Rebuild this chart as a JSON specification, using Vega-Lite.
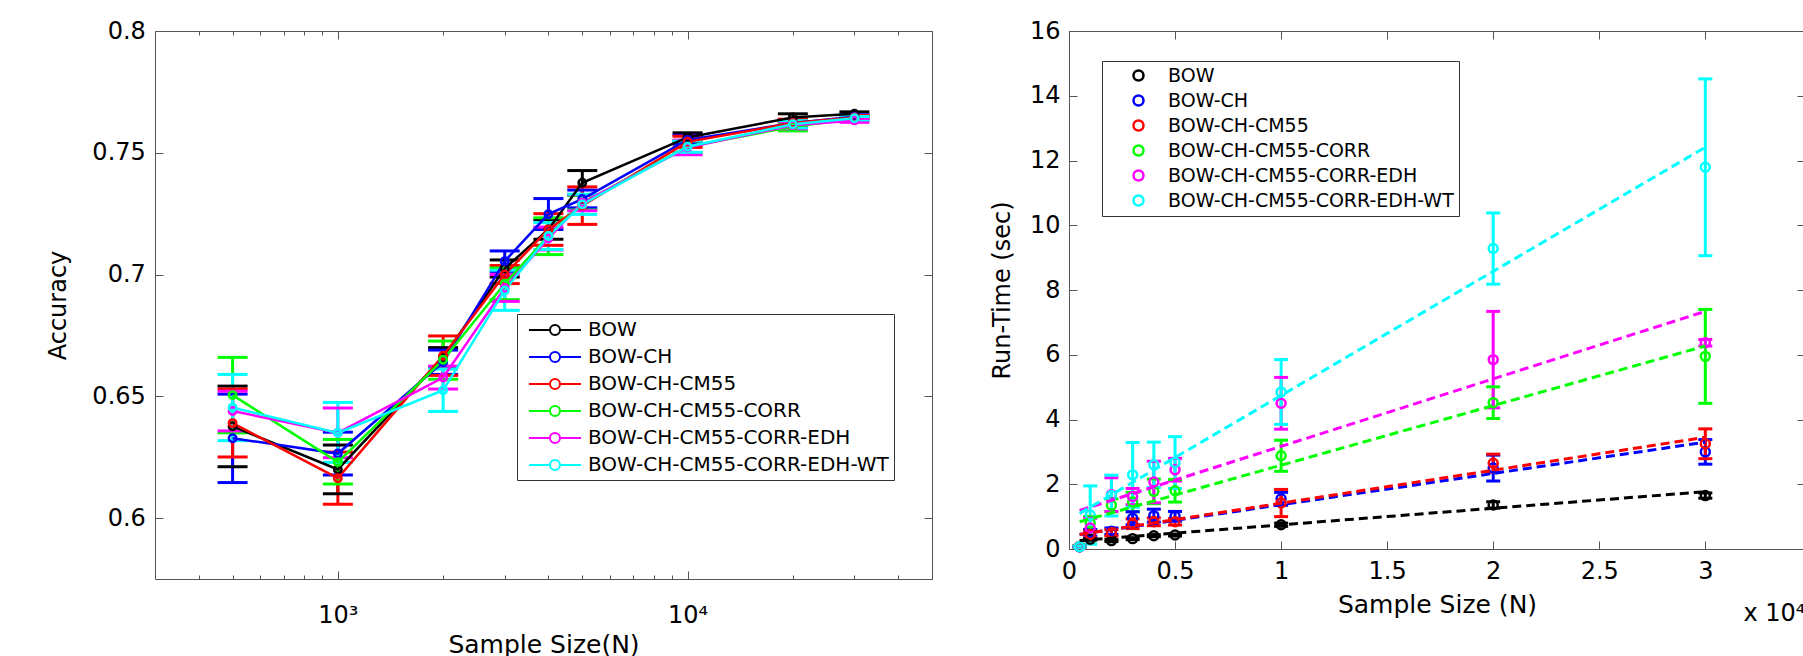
{
  "$schema": "https://vega.github.io/schema/vega-lite/v6.json",
  "background": "white",
  "padding": {"left": 46, "top": 19, "right": 0, "bottom": 0},
  "spacing": 57,
  "config": {
    "font": "DejaVu Sans",
    "view": {"stroke": null},
    "axis": {
      "labelFont": "DejaVu Sans", "titleFont": "DejaVu Sans", "labelColor": "black", "titleColor": "black",
      "titleFontWeight": "normal", "domainColor": "#555", "tickColor": "#555", "grid": false,
      "labelFontSize": 24, "titleFontSize": 24, "labelFlush": false, "labelOverlap": false, "tickWidth": 1, "domainWidth": 1
    },
    "legend": {"labelFont": "DejaVu Sans", "labelColor": "black", "labelLimit": 0}
  },
  "resolve": {"scale": {"color": "independent", "stroke": "independent", "fill": "independent"}, "legend": {"color": "independent"}},
  "datasets": {
    "acc": [
      {"s": "BOW", "N": 500, "v": 0.6377, "lo": 0.6211, "hi": 0.6542},
      {"s": "BOW", "N": 1000, "v": 0.620, "lo": 0.610, "hi": 0.630},
      {"s": "BOW", "N": 2000, "v": 0.666, "lo": 0.662, "hi": 0.670},
      {"s": "BOW", "N": 3000, "v": 0.7025, "lo": 0.699, "hi": 0.706},
      {"s": "BOW", "N": 4000, "v": 0.7185, "lo": 0.7145, "hi": 0.7225},
      {"s": "BOW", "N": 5000, "v": 0.7377, "lo": 0.7327, "hi": 0.7427},
      {"s": "BOW", "N": 10000, "v": 0.7563, "lo": 0.7545, "hi": 0.7582},
      {"s": "BOW", "N": 20000, "v": 0.7645, "lo": 0.763, "hi": 0.766},
      {"s": "BOW", "N": 30000, "v": 0.766, "lo": 0.7652, "hi": 0.7668},
      {"s": "BOW-CH", "N": 500, "v": 0.6328, "lo": 0.6146, "hi": 0.6509},
      {"s": "BOW-CH", "N": 1000, "v": 0.6265, "lo": 0.6177, "hi": 0.6353},
      {"s": "BOW-CH", "N": 2000, "v": 0.664, "lo": 0.659, "hi": 0.669},
      {"s": "BOW-CH", "N": 3000, "v": 0.7055, "lo": 0.7013, "hi": 0.7097},
      {"s": "BOW-CH", "N": 4000, "v": 0.7248, "lo": 0.7185, "hi": 0.7312},
      {"s": "BOW-CH", "N": 5000, "v": 0.731, "lo": 0.7274, "hi": 0.7347},
      {"s": "BOW-CH", "N": 10000, "v": 0.7553, "lo": 0.7535, "hi": 0.7572},
      {"s": "BOW-CH", "N": 20000, "v": 0.7622, "lo": 0.7608, "hi": 0.7636},
      {"s": "BOW-CH", "N": 30000, "v": 0.7648, "lo": 0.764, "hi": 0.7656},
      {"s": "BOW-CH-CM55", "N": 500, "v": 0.639, "lo": 0.6251, "hi": 0.653},
      {"s": "BOW-CH-CM55", "N": 1000, "v": 0.6164, "lo": 0.6057, "hi": 0.6271},
      {"s": "BOW-CH-CM55", "N": 2000, "v": 0.6667, "lo": 0.6586, "hi": 0.6748},
      {"s": "BOW-CH-CM55", "N": 3000, "v": 0.700, "lo": 0.6963, "hi": 0.7037},
      {"s": "BOW-CH-CM55", "N": 4000, "v": 0.7185, "lo": 0.712, "hi": 0.725},
      {"s": "BOW-CH-CM55", "N": 5000, "v": 0.7283, "lo": 0.7206, "hi": 0.736},
      {"s": "BOW-CH-CM55", "N": 10000, "v": 0.7545, "lo": 0.7522, "hi": 0.7568},
      {"s": "BOW-CH-CM55", "N": 20000, "v": 0.7622, "lo": 0.7605, "hi": 0.7638},
      {"s": "BOW-CH-CM55", "N": 30000, "v": 0.7645, "lo": 0.7637, "hi": 0.7653},
      {"s": "BOW-CH-CM55-CORR", "N": 500, "v": 0.6505, "lo": 0.635, "hi": 0.666},
      {"s": "BOW-CH-CM55-CORR", "N": 1000, "v": 0.623, "lo": 0.614, "hi": 0.6323},
      {"s": "BOW-CH-CM55-CORR", "N": 2000, "v": 0.665, "lo": 0.657, "hi": 0.6727},
      {"s": "BOW-CH-CM55-CORR", "N": 3000, "v": 0.6962, "lo": 0.6897, "hi": 0.7027},
      {"s": "BOW-CH-CM55-CORR", "N": 4000, "v": 0.7158, "lo": 0.7082, "hi": 0.7233},
      {"s": "BOW-CH-CM55-CORR", "N": 5000, "v": 0.7295, "lo": 0.7265, "hi": 0.7325},
      {"s": "BOW-CH-CM55-CORR", "N": 10000, "v": 0.7525, "lo": 0.750, "hi": 0.755},
      {"s": "BOW-CH-CM55-CORR", "N": 20000, "v": 0.7607, "lo": 0.759, "hi": 0.7624},
      {"s": "BOW-CH-CM55-CORR", "N": 30000, "v": 0.764, "lo": 0.7632, "hi": 0.7648},
      {"s": "BOW-CH-CM55-CORR-EDH", "N": 500, "v": 0.644, "lo": 0.6358, "hi": 0.6521},
      {"s": "BOW-CH-CM55-CORR-EDH", "N": 1000, "v": 0.635, "lo": 0.6248, "hi": 0.6452},
      {"s": "BOW-CH-CM55-CORR-EDH", "N": 2000, "v": 0.6577, "lo": 0.653, "hi": 0.6624},
      {"s": "BOW-CH-CM55-CORR-EDH", "N": 3000, "v": 0.6945, "lo": 0.689, "hi": 0.700},
      {"s": "BOW-CH-CM55-CORR-EDH", "N": 4000, "v": 0.7148, "lo": 0.7101, "hi": 0.7195},
      {"s": "BOW-CH-CM55-CORR-EDH", "N": 5000, "v": 0.7295, "lo": 0.7262, "hi": 0.7328},
      {"s": "BOW-CH-CM55-CORR-EDH", "N": 10000, "v": 0.7522, "lo": 0.7492, "hi": 0.7552},
      {"s": "BOW-CH-CM55-CORR-EDH", "N": 20000, "v": 0.7613, "lo": 0.7598, "hi": 0.7628},
      {"s": "BOW-CH-CM55-CORR-EDH", "N": 30000, "v": 0.7633, "lo": 0.7625, "hi": 0.7641},
      {"s": "BOW-CH-CM55-CORR-EDH-WT", "N": 500, "v": 0.6454, "lo": 0.6318, "hi": 0.659},
      {"s": "BOW-CH-CM55-CORR-EDH-WT", "N": 1000, "v": 0.635, "lo": 0.6229, "hi": 0.6475},
      {"s": "BOW-CH-CM55-CORR-EDH-WT", "N": 2000, "v": 0.6525, "lo": 0.6438, "hi": 0.6612},
      {"s": "BOW-CH-CM55-CORR-EDH-WT", "N": 3000, "v": 0.6935, "lo": 0.6853, "hi": 0.7018},
      {"s": "BOW-CH-CM55-CORR-EDH-WT", "N": 4000, "v": 0.7158, "lo": 0.7103, "hi": 0.7213},
      {"s": "BOW-CH-CM55-CORR-EDH-WT", "N": 5000, "v": 0.7288, "lo": 0.7247, "hi": 0.733},
      {"s": "BOW-CH-CM55-CORR-EDH-WT", "N": 10000, "v": 0.7525, "lo": 0.7502, "hi": 0.7548},
      {"s": "BOW-CH-CM55-CORR-EDH-WT", "N": 20000, "v": 0.7617, "lo": 0.7602, "hi": 0.7632},
      {"s": "BOW-CH-CM55-CORR-EDH-WT", "N": 30000, "v": 0.7642, "lo": 0.7635, "hi": 0.7649}
    ],
    "rt": [
      {"s": "BOW", "N": 500, "t": 0.07, "lo": 0.05, "hi": 0.09},
      {"s": "BOW", "N": 1000, "t": 0.30, "lo": 0.27, "hi": 0.33},
      {"s": "BOW", "N": 2000, "t": 0.26, "lo": 0.23, "hi": 0.29},
      {"s": "BOW", "N": 3000, "t": 0.32, "lo": 0.29, "hi": 0.35},
      {"s": "BOW", "N": 4000, "t": 0.41, "lo": 0.38, "hi": 0.44},
      {"s": "BOW", "N": 5000, "t": 0.43, "lo": 0.40, "hi": 0.46},
      {"s": "BOW", "N": 10000, "t": 0.75, "lo": 0.70, "hi": 0.80},
      {"s": "BOW", "N": 20000, "t": 1.36, "lo": 1.26, "hi": 1.46},
      {"s": "BOW", "N": 30000, "t": 1.65, "lo": 1.57, "hi": 1.73},
      {"s": "BOW-CH", "N": 500, "t": 0.07, "lo": 0.05, "hi": 0.09},
      {"s": "BOW-CH", "N": 1000, "t": 0.50, "lo": 0.40, "hi": 0.60},
      {"s": "BOW-CH", "N": 2000, "t": 0.55, "lo": 0.45, "hi": 0.65},
      {"s": "BOW-CH", "N": 3000, "t": 0.95, "lo": 0.75, "hi": 1.15},
      {"s": "BOW-CH", "N": 4000, "t": 1.03, "lo": 0.83, "hi": 1.23},
      {"s": "BOW-CH", "N": 5000, "t": 1.01, "lo": 0.86, "hi": 1.16},
      {"s": "BOW-CH", "N": 10000, "t": 1.55, "lo": 1.35, "hi": 1.75},
      {"s": "BOW-CH", "N": 20000, "t": 2.50, "lo": 2.10, "hi": 2.90},
      {"s": "BOW-CH", "N": 30000, "t": 3.00, "lo": 2.62, "hi": 3.38},
      {"s": "BOW-CH-CM55", "N": 500, "t": 0.08, "lo": 0.06, "hi": 0.10},
      {"s": "BOW-CH-CM55", "N": 1000, "t": 0.45, "lo": 0.35, "hi": 0.55},
      {"s": "BOW-CH-CM55", "N": 2000, "t": 0.50, "lo": 0.40, "hi": 0.60},
      {"s": "BOW-CH-CM55", "N": 3000, "t": 0.78, "lo": 0.63, "hi": 0.93},
      {"s": "BOW-CH-CM55", "N": 4000, "t": 0.84, "lo": 0.72, "hi": 0.96},
      {"s": "BOW-CH-CM55", "N": 5000, "t": 0.84, "lo": 0.74, "hi": 0.94},
      {"s": "BOW-CH-CM55", "N": 10000, "t": 1.42, "lo": 1.00, "hi": 1.84},
      {"s": "BOW-CH-CM55", "N": 20000, "t": 2.65, "lo": 2.37, "hi": 2.93},
      {"s": "BOW-CH-CM55", "N": 30000, "t": 3.25, "lo": 2.79, "hi": 3.71},
      {"s": "BOW-CH-CM55-CORR", "N": 500, "t": 0.08, "lo": 0.06, "hi": 0.10},
      {"s": "BOW-CH-CM55-CORR", "N": 1000, "t": 0.80, "lo": 0.60, "hi": 1.00},
      {"s": "BOW-CH-CM55-CORR", "N": 2000, "t": 1.35, "lo": 1.15, "hi": 1.55},
      {"s": "BOW-CH-CM55-CORR", "N": 3000, "t": 1.45, "lo": 1.15, "hi": 1.75},
      {"s": "BOW-CH-CM55-CORR", "N": 4000, "t": 1.78, "lo": 1.40, "hi": 2.16},
      {"s": "BOW-CH-CM55-CORR", "N": 5000, "t": 1.80, "lo": 1.45, "hi": 2.15},
      {"s": "BOW-CH-CM55-CORR", "N": 10000, "t": 2.88, "lo": 2.40, "hi": 3.36},
      {"s": "BOW-CH-CM55-CORR", "N": 20000, "t": 4.52, "lo": 4.03, "hi": 5.01},
      {"s": "BOW-CH-CM55-CORR", "N": 30000, "t": 5.95, "lo": 4.50, "hi": 7.40},
      {"s": "BOW-CH-CM55-CORR-EDH", "N": 500, "t": 0.07, "lo": 0.05, "hi": 0.09},
      {"s": "BOW-CH-CM55-CORR-EDH", "N": 1000, "t": 0.65, "lo": 0.35, "hi": 0.95},
      {"s": "BOW-CH-CM55-CORR-EDH", "N": 2000, "t": 1.68, "lo": 1.16, "hi": 2.20},
      {"s": "BOW-CH-CM55-CORR-EDH", "N": 3000, "t": 1.62, "lo": 1.37, "hi": 1.87},
      {"s": "BOW-CH-CM55-CORR-EDH", "N": 4000, "t": 2.07, "lo": 1.43, "hi": 2.71},
      {"s": "BOW-CH-CM55-CORR-EDH", "N": 5000, "t": 2.45, "lo": 2.10, "hi": 2.80},
      {"s": "BOW-CH-CM55-CORR-EDH", "N": 10000, "t": 4.50, "lo": 3.70, "hi": 5.30},
      {"s": "BOW-CH-CM55-CORR-EDH", "N": 20000, "t": 5.85, "lo": 4.36, "hi": 7.34},
      {"s": "BOW-CH-CM55-CORR-EDH", "N": 30000, "t": 6.37, "lo": 6.27, "hi": 6.47},
      {"s": "BOW-CH-CM55-CORR-EDH-WT", "N": 500, "t": 0.07, "lo": 0.05, "hi": 0.09},
      {"s": "BOW-CH-CM55-CORR-EDH-WT", "N": 1000, "t": 1.05, "lo": 0.15, "hi": 1.95},
      {"s": "BOW-CH-CM55-CORR-EDH-WT", "N": 2000, "t": 1.65, "lo": 1.02, "hi": 2.28},
      {"s": "BOW-CH-CM55-CORR-EDH-WT", "N": 3000, "t": 2.29, "lo": 1.29, "hi": 3.29},
      {"s": "BOW-CH-CM55-CORR-EDH-WT", "N": 4000, "t": 2.60, "lo": 1.90, "hi": 3.30},
      {"s": "BOW-CH-CM55-CORR-EDH-WT", "N": 5000, "t": 2.67, "lo": 1.87, "hi": 3.47},
      {"s": "BOW-CH-CM55-CORR-EDH-WT", "N": 10000, "t": 4.85, "lo": 3.85, "hi": 5.85},
      {"s": "BOW-CH-CM55-CORR-EDH-WT", "N": 20000, "t": 9.28, "lo": 8.18, "hi": 10.38},
      {"s": "BOW-CH-CM55-CORR-EDH-WT", "N": 30000, "t": 11.79, "lo": 9.06, "hi": 14.52}
    ],
    "fit": [
      {"s": "BOW", "N": 500, "f": 0.26}, {"s": "BOW", "N": 30000, "f": 1.77},
      {"s": "BOW-CH", "N": 500, "f": 0.45}, {"s": "BOW-CH", "N": 30000, "f": 3.30},
      {"s": "BOW-CH-CM55", "N": 500, "f": 0.45}, {"s": "BOW-CH-CM55", "N": 30000, "f": 3.45},
      {"s": "BOW-CH-CM55-CORR", "N": 500, "f": 0.84}, {"s": "BOW-CH-CM55-CORR", "N": 30000, "f": 6.27},
      {"s": "BOW-CH-CM55-CORR-EDH", "N": 500, "f": 1.19}, {"s": "BOW-CH-CM55-CORR-EDH", "N": 30000, "f": 7.34},
      {"s": "BOW-CH-CM55-CORR-EDH-WT", "N": 500, "f": 1.10}, {"s": "BOW-CH-CM55-CORR-EDH-WT", "N": 30000, "f": 12.41}
    ]
  },
  "hconcat": [
    {
      "width": 777,
      "height": 548,
      "data": {"name": "acc"},
      "resolve": {"axis": {"x": "independent", "y": "independent"}},
      "layer": [
        {
          "mark": {"type": "rule", "strokeWidth": 3},
          "encoding": {
            "x": {"field": "N", "type": "quantitative", "scale": {"type": "log", "domain": [300, 50000], "nice": false},
              "axis": {"orient": "top", "values": [400,500,600,700,800,900,1000,2000,3000,4000,5000,6000,7000,8000,9000,10000,20000,30000,40000,50000], "labels": false, "title": null,
                "tickSize": {"condition": {"test": "datum.value == 1000 || datum.value == 10000", "value": -8}, "value": -4}}},
            "y": {"field": "lo", "type": "quantitative", "scale": {"domain": [0.575, 0.8], "nice": false, "zero": false},
              "axis": {"orient": "right", "values": [0.6, 0.65, 0.7, 0.75, 0.8], "labels": false, "title": null, "tickSize": -8}},
            "y2": {"field": "hi"},
            "stroke": {"field": "s", "type": "nominal", "legend": null,
              "scale": {"range": ["#000000", "#0000FF", "#FF0000", "#00FF00", "#FF00FF", "#00FFFF"]}}
          }
        },
        {
          "mark": {"type": "tick", "orient": "horizontal", "size": 30, "thickness": 3, "opacity": 1},
          "encoding": {
            "x": {"field": "N", "type": "quantitative", "scale": {"type": "log", "domain": [300, 50000], "nice": false}, "axis": null},
            "y": {"field": "lo", "type": "quantitative", "scale": {"domain": [0.575, 0.8], "nice": false, "zero": false}, "axis": null},
            "fill": {"field": "s", "type": "nominal", "legend": null,
              "scale": {"range": ["#000000", "#0000FF", "#FF0000", "#00FF00", "#FF00FF", "#00FFFF"]}}
          }
        },
        {
          "mark": {"type": "tick", "orient": "horizontal", "size": 30, "thickness": 3, "opacity": 1},
          "encoding": {
            "x": {"field": "N", "type": "quantitative", "scale": {"type": "log", "domain": [300, 50000], "nice": false}, "axis": null},
            "y": {"field": "hi", "type": "quantitative", "scale": {"domain": [0.575, 0.8], "nice": false, "zero": false}, "axis": null},
            "fill": {"field": "s", "type": "nominal", "legend": null}
          }
        },
        {
          "mark": {"type": "line", "strokeWidth": 2.5},
          "encoding": {
            "x": {"field": "N", "type": "quantitative", "scale": {"type": "log", "domain": [300, 50000], "nice": false},
              "axis": {"orient": "bottom", "values": [400,500,600,700,800,900,1000,2000,3000,4000,5000,6000,7000,8000,9000,10000,20000,30000,40000,50000],
                "labelExpr": "datum.value == 1000 ? '10³' : datum.value == 10000 ? '10⁴' : ''",
                "tickSize": {"condition": {"test": "datum.value == 1000 || datum.value == 10000", "value": -8}, "value": -4},
                "labelPadding": 32, "title": "Sample Size(N)", "titleFontSize": 25, "titlePadding": 1}},
            "y": {"field": "v", "type": "quantitative", "scale": {"domain": [0.575, 0.8], "nice": false, "zero": false},
              "axis": {"orient": "left", "values": [0.6, 0.65, 0.7, 0.75, 0.8], "format": ".2~f", "tickSize": -8, "labelPadding": 17.7, "title": "Accuracy", "titlePadding": 21}},
            "stroke": {"field": "s", "type": "nominal", "legend": null}
          }
        },
        {
          "mark": {"type": "point", "shape": "circle", "filled": false, "size": 55, "strokeWidth": 2.5, "opacity": 1},
          "encoding": {
            "x": {"field": "N", "type": "quantitative", "scale": {"type": "log", "domain": [300, 50000], "nice": false}, "axis": null},
            "y": {"field": "v", "type": "quantitative", "scale": {"domain": [0.575, 0.8], "nice": false, "zero": false}, "axis": null},
            "color": {"field": "s", "type": "nominal",
              "scale": {"domain": ["BOW", "BOW-CH", "BOW-CH-CM55", "BOW-CH-CM55-CORR", "BOW-CH-CM55-CORR-EDH", "BOW-CH-CM55-CORR-EDH-WT"], "range": ["#000000", "#0000FF", "#FF0000", "#00FF00", "#FF00FF", "#00FFFF"]},
              "legend": {"orient": "none", "legendX": 362, "legendY": 283, "title": null,
                "symbolType": "M-2.6,0L-0.5,0M0.5,0L2.6,0M-0.5,0A0.5,0.5,0,1,1,0.5,0A0.5,0.5,0,1,1,-0.5,0",
                "symbolSize": 400, "symbolStrokeWidth": 2, "symbolFillColor": "transparent", "symbolOpacity": 1, "symbolOffset": 22, "labelOffset": 22,
                "labelFontSize": 20, "rowPadding": 6, "padding": 5, "strokeColor": "#333", "fillColor": "white", "cornerRadius": 0}}
          }
        }
      ]
    },
    {
      "width": 736,
      "height": 518,
      "resolve": {"axis": {"x": "independent", "y": "independent"}},
      "layer": [
        {
          "data": {"name": "rt"},
          "mark": {"type": "rule", "strokeWidth": 3},
          "encoding": {
            "x": {"field": "N", "type": "quantitative", "scale": {"domain": [0, 34700], "nice": false, "zero": false},
              "axis": {"orient": "top", "values": [0,5000,10000,15000,20000,25000,30000], "labels": false, "title": null, "tickSize": -8}},
            "y": {"field": "lo", "type": "quantitative", "scale": {"domain": [0, 16], "nice": false},
              "axis": {"orient": "right", "values": [0,2,4,6,8,10,12,14,16], "labels": false, "title": null, "tickSize": -8, "domain": false}},
            "y2": {"field": "hi"},
            "stroke": {"field": "s", "type": "nominal", "legend": null,
              "scale": {"range": ["#000000", "#0000FF", "#FF0000", "#00FF00", "#FF00FF", "#00FFFF"]}}
          }
        },
        {
          "data": {"name": "rt"},
          "mark": {"type": "tick", "orient": "horizontal", "size": 14, "thickness": 3, "opacity": 1},
          "encoding": {
            "x": {"field": "N", "type": "quantitative", "scale": {"domain": [0, 34700], "nice": false, "zero": false},
              "axis": {"orient": "bottom", "title": "x 10⁴", "titleAnchor": "end", "labels": false, "ticks": false, "domain": false, "titlePadding": 52, "titleFontSize": 24}},
            "y": {"field": "lo", "type": "quantitative", "scale": {"domain": [0, 16], "nice": false}, "axis": null},
            "fill": {"field": "s", "type": "nominal", "legend": null,
              "scale": {"range": ["#000000", "#0000FF", "#FF0000", "#00FF00", "#FF00FF", "#00FFFF"]}}
          }
        },
        {
          "data": {"name": "rt"},
          "mark": {"type": "tick", "orient": "horizontal", "size": 14, "thickness": 3, "opacity": 1},
          "encoding": {
            "x": {"field": "N", "type": "quantitative", "scale": {"domain": [0, 34700], "nice": false, "zero": false}, "axis": null},
            "y": {"field": "hi", "type": "quantitative", "scale": {"domain": [0, 16], "nice": false}, "axis": null},
            "fill": {"field": "s", "type": "nominal", "legend": null}
          }
        },
        {
          "data": {"name": "rt"},
          "mark": {"type": "point", "shape": "circle", "filled": false, "size": 80, "strokeWidth": 2.5, "opacity": 1},
          "encoding": {
            "x": {"field": "N", "type": "quantitative", "scale": {"domain": [0, 34700], "nice": false, "zero": false},
              "axis": {"orient": "bottom", "values": [0,5000,10000,15000,20000,25000,30000], "labelExpr": "format(datum.value / 10000, '~g')",
                "tickSize": -8, "labelPadding": 18, "title": "Sample Size (N)", "titleFontSize": 25, "titlePadding": 9}},
            "y": {"field": "t", "type": "quantitative", "scale": {"domain": [0, 16], "nice": false},
              "axis": {"orient": "left", "values": [0,2,4,6,8,10,12,14,16], "tickSize": -8, "labelPadding": 17, "title": "Run-Time (sec)", "titlePadding": 14.5}},
            "color": {"field": "s", "type": "nominal",
              "scale": {"domain": ["BOW", "BOW-CH", "BOW-CH-CM55", "BOW-CH-CM55-CORR", "BOW-CH-CM55-CORR-EDH", "BOW-CH-CM55-CORR-EDH-WT"], "range": ["#000000", "#0000FF", "#FF0000", "#00FF00", "#FF00FF", "#00FFFF"]},
              "legend": {"orient": "none", "legendX": 33, "legendY": 30, "title": null, "symbolType": "circle",
                "symbolSize": 100, "symbolStrokeWidth": 2.5, "symbolFillColor": "transparent", "symbolOpacity": 1, "symbolOffset": 22, "labelOffset": 20,
                "labelFontSize": 19, "rowPadding": 4, "padding": 5, "strokeColor": "#333", "fillColor": "white", "cornerRadius": 0}}
          }
        },
        {
          "data": {"name": "fit"},
          "mark": {"type": "line", "strokeWidth": 3, "strokeDash": [9, 5]},
          "encoding": {
            "x": {"field": "N", "type": "quantitative", "scale": {"domain": [0, 34700], "nice": false, "zero": false}, "axis": null},
            "y": {"field": "f", "type": "quantitative", "scale": {"domain": [0, 16], "nice": false}, "axis": null},
            "stroke": {"field": "s", "type": "nominal", "legend": null}
          }
        }
      ]
    }
  ]
}
